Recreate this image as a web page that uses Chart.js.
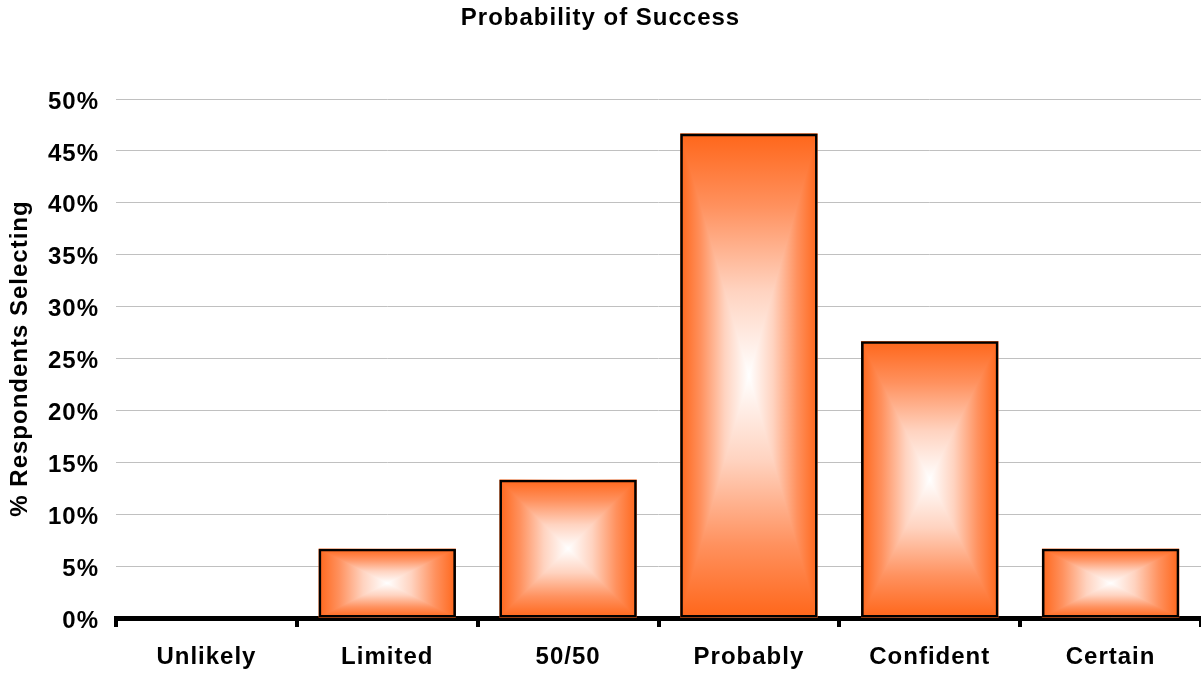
<!DOCTYPE html>
<html>
<head>
<meta charset="utf-8">
<title>Probability of Success</title>
<script src="https://cdn.jsdelivr.net/npm/chart.js@4/dist/chart.umd.min.js"></script>
<style>
  html, body { margin: 0; padding: 0; background: #ffffff; }
  #wrap { width: 1201px; height: 679px; position: relative; }
</style>
</head>
<body>
<div id="wrap"><canvas id="chart"></canvas></div>
<script>
// Survey answers: share of respondents picking each likelihood
const categories = ['Unlikely', 'Limited', '50/50', 'Probably', 'Confident', 'Certain'];
const shares = [0, 6.67, 13.33, 46.67, 26.67, 6.67];
const yTicks = [0, 5, 10, 15, 20, 25, 30, 35, 40, 45, 50];

const EDGE = '#ff661a';
const FONT = "'Liberation Sans', Arial, sans-serif";

function edgeToCentre(g) {
  g.addColorStop(0, EDGE);
  g.addColorStop(0.3, '#ff915e');
  g.addColorStop(0.65, '#ffd3c0');
  g.addColorStop(1, '#ffffff');
  return g;
}

// Fill every bar with a rectangular "from centre" gradient: white in the middle, orange at the edges
const boxGradient = {
  id: 'boxGradient',
  beforeDatasetsDraw(chart) {
    const ctx = chart.ctx;
    chart.getSortedVisibleDatasetMetas().forEach(meta => {
      meta.data.forEach(bar => {
        const p = bar.getProps(['x', 'y', 'base', 'width'], true);
        const l = p.x - p.width / 2, r = p.x + p.width / 2;
        const t = Math.min(p.y, p.base), b = Math.max(p.y, p.base);
        if (b - t < 1) return;
        const cx = (l + r) / 2, cy = (t + b) / 2;
        ctx.save();
        // left and right halves
        ctx.fillStyle = edgeToCentre(ctx.createLinearGradient(l, 0, cx, 0));
        ctx.fillRect(l, t, cx - l, b - t);
        ctx.fillStyle = edgeToCentre(ctx.createLinearGradient(r, 0, cx, 0));
        ctx.fillRect(cx, t, r - cx, b - t);
        // top and bottom triangles
        ctx.beginPath();
        ctx.moveTo(l, t); ctx.lineTo(r, t); ctx.lineTo(cx, cy); ctx.closePath();
        ctx.fillStyle = edgeToCentre(ctx.createLinearGradient(0, t, 0, cy));
        ctx.fill();
        ctx.beginPath();
        ctx.moveTo(l, b); ctx.lineTo(r, b); ctx.lineTo(cx, cy); ctx.closePath();
        ctx.fillStyle = edgeToCentre(ctx.createLinearGradient(0, b, 0, cy));
        ctx.fill();
        ctx.restore();
      });
    });
  }
};

// Slightly open letter spacing for all chart text
const spacing = {
  id: 'spacing',
  beforeLayout(chart) { chart.ctx.letterSpacing = '1px'; },
  beforeDraw(chart) { chart.ctx.letterSpacing = '1px'; }
};

new Chart(document.getElementById('chart'), {
  type: 'bar',
  data: {
    labels: categories,
    datasets: [{
      data: shares,
      backgroundColor: 'rgba(0,0,0,0)',
      borderColor: '#000000',
      borderWidth: 2.6,
      borderSkipped: false,
      categoryPercentage: 1,
      barPercentage: 0.76
    }]
  },
  options: {
    responsive: true,
    maintainAspectRatio: false,
    animation: false,
    events: [],
    layout: { padding: { left: 0, right: 0, top: 0, bottom: 0 } },
    plugins: {
      legend: { display: false },
      tooltip: { enabled: false },
      title: {
        display: true,
        text: 'Probability of Success',
        color: '#000000',
        font: { family: FONT, size: 24, weight: 'bold', lineHeight: 1.2 },
        padding: { top: 4, bottom: 66.2 }
      }
    },
    scales: {
      x: {
        offset: true,
        grid: {
          offset: true,
          drawOnChartArea: false,
          drawTicks: true,
          tickLength: 9,
          lineWidth: 4,
          color: '#000000'
        },
        border: { display: true, color: '#000000', width: 5 },
        ticks: {
          color: '#000000',
          padding: 16,
          maxRotation: 0,
          font: { family: FONT, size: 24, weight: 'bold', lineHeight: 1.2 }
        },
        afterFit(scale) { scale.height = 61; }
      },
      y: {
        min: 0,
        max: 50,
        afterBuildTicks(scale) { scale.ticks = yTicks.map(v => ({ value: v })); },
        grid: { color: '#c0c0c0', lineWidth: 1, drawTicks: false },
        border: { display: false },
        ticks: {
          color: '#000000',
          padding: 17,
          labelOffset: 3,
          font: { family: FONT, size: 24, weight: 'bold', lineHeight: 1.2 },
          callback: v => v + '%'
        },
        title: {
          display: true,
          text: '% Respondents Selecting',
          color: '#000000',
          font: { family: FONT, size: 24, weight: 'bold', lineHeight: 1.2 },
          padding: { top: 6, bottom: 0 }
        },
        afterFit(scale) { scale.width = 116; }
      }
    }
  },
  plugins: [spacing, boxGradient]
});
</script>
</body>
</html>
